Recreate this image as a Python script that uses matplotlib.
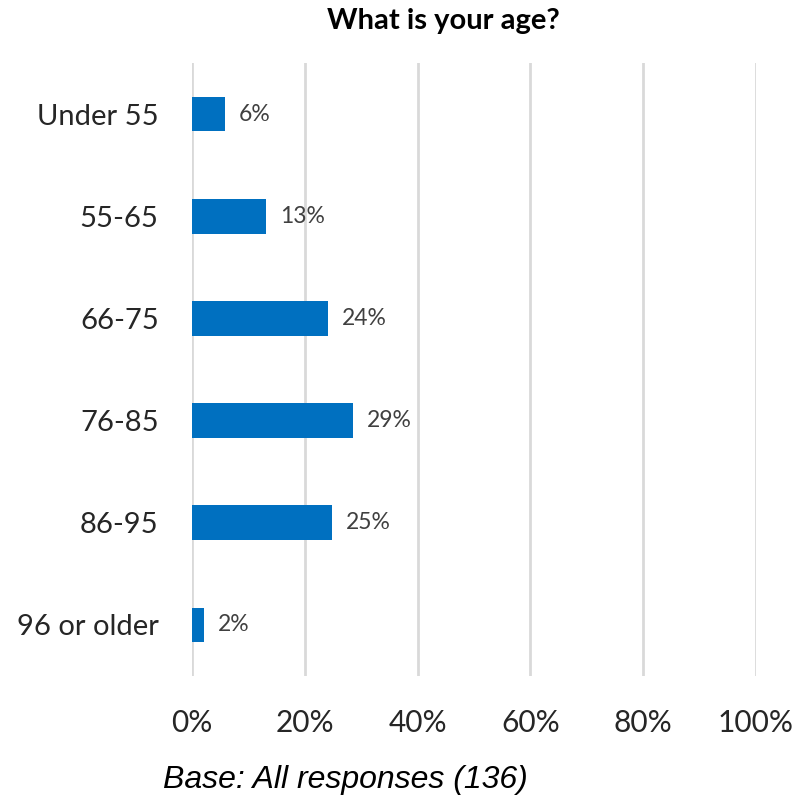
import matplotlib
matplotlib.use("Agg")
import matplotlib.pyplot as plt

# data
categories = ["Under 55", "55-65", "66-75", "76-85", "86-95", "96 or older"]
shares = [5.9, 13.1, 24.1, 28.5, 24.8, 2.1]
share_labels = ["6%", "13%", "24%", "29%", "25%", "2%"]
tick_vals = [0, 20, 40, 60, 80, 100]
tick_labels = ["0%", "20%", "40%", "60%", "80%", "100%"]

plt.rcParams["font.family"] = ["Lato", "DejaVu Sans"]

fig = plt.figure(figsize=(8.07, 8.0), dpi=100)
ax = fig.add_axes([192 / 807, 1 - 676 / 800, 564 / 807, 613 / 800])

ypos = list(range(len(categories)))
ax.barh(ypos, shares, height=0.34, color="#0070C0", zorder=3)

# value labels to the right of each bar
for y, v, lab in zip(ypos, shares, share_labels):
    ax.annotate(lab, xy=(v, y), xytext=(10, 0), textcoords="offset points",
                va="center", ha="left", fontsize=16.5, color="#404040")

ax.set_xlim(0, 100)
ax.set_ylim(len(categories) - 0.5, -0.5)
ax.set_xticks(tick_vals)
ax.set_xticklabels(tick_labels, fontsize=21.5, color="#262626")
ax.set_yticks(ypos)
ax.set_yticklabels(categories, fontsize=21, color="#262626")
ax.tick_params(axis="both", length=0)
ax.tick_params(axis="x", pad=24)
ax.tick_params(axis="y", pad=24)

ax.grid(axis="x", color="#D9D9D9", linewidth=2, zorder=0)
for s in ax.spines.values():
    s.set_visible(False)

fig.text(443 / 807, 1 - 21 / 800, "What is your age?", ha="center", va="center",
         fontsize=21, fontweight="bold", color="#000000")
fig.text(163 / 807, 1 - 780 / 800, "Base: All responses (136)", ha="left", va="center",
         fontsize=23, style="italic", family="Liberation Sans", color="#000000")

fig.savefig("out.png", dpi=100)
